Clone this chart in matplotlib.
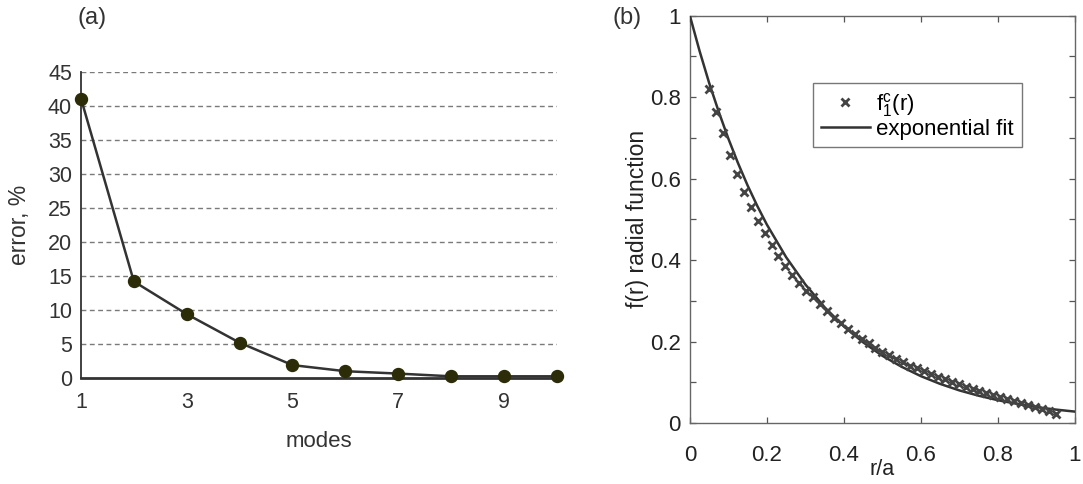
import matplotlib
matplotlib.use("Agg")
import matplotlib.pyplot as plt

plt.rcParams['font.family'] = ['Liberation Sans', 'DejaVu Sans']
plt.rcParams['mathtext.fontset'] = 'custom'
plt.rcParams['mathtext.rm'] = 'Liberation Sans'

# ---- panel (a) data ----
modes = [1, 2, 3, 4, 5, 6, 7, 8, 9, 10]
error_pct = [41.1, 14.2, 9.4, 5.2, 1.9, 1.0, 0.65, 0.25, 0.25, 0.25]
a_yticks = [0, 5, 10, 15, 20, 25, 30, 35, 40, 45]
a_xticks = [1, 3, 5, 7, 9]

# ---- panel (b) data ----
r_points = [0.050, 0.068, 0.086, 0.104, 0.122, 0.140, 0.158, 0.176, 0.194, 0.212,
            0.230, 0.248, 0.266, 0.284, 0.302, 0.320, 0.338, 0.356, 0.374, 0.392,
            0.410, 0.428, 0.446, 0.464, 0.482, 0.500, 0.518, 0.536, 0.554, 0.572,
            0.590, 0.608, 0.626, 0.644, 0.662, 0.680, 0.698, 0.716, 0.734, 0.752,
            0.770, 0.788, 0.806, 0.824, 0.842, 0.860, 0.878, 0.896, 0.914, 0.932,
            0.950]
f1c_points = [0.820, 0.764, 0.711, 0.658, 0.611, 0.568, 0.531, 0.496, 0.466, 0.437,
              0.411, 0.386, 0.363, 0.343, 0.325, 0.309, 0.291, 0.275, 0.259, 0.245,
              0.232, 0.219, 0.207, 0.196, 0.185, 0.175, 0.166, 0.157, 0.149, 0.141,
              0.134, 0.127, 0.120, 0.113, 0.107, 0.101, 0.095, 0.089, 0.084, 0.079,
              0.074, 0.069, 0.064, 0.059, 0.054, 0.049, 0.045, 0.040, 0.035, 0.029,
              0.023]
r_fit = [0.0, 0.025, 0.05, 0.075, 0.1, 0.125, 0.15, 0.175, 0.2, 0.25, 0.3, 0.35, 0.4,
         0.45, 0.5, 0.55, 0.6, 0.65, 0.7, 0.75, 0.8, 0.85, 0.9, 0.95, 1.0]
f_fit = [1.000, 0.914, 0.835, 0.764, 0.698, 0.638, 0.583, 0.533, 0.487, 0.407, 0.340,
         0.284, 0.237, 0.198, 0.165, 0.138, 0.115, 0.096, 0.080, 0.067, 0.056, 0.047,
         0.039, 0.033, 0.028]
b_major = [0, 0.2, 0.4, 0.6, 0.8, 1.0]
b_minor = [0.1, 0.3, 0.5, 0.7, 0.9]
b_labels = ['0', '0.2', '0.4', '0.6', '0.8', '1']

fig = plt.figure(figsize=(10.83, 4.84), dpi=100)

# ---------------- panel (a) ----------------
axa = fig.add_axes([0.0748, 0.219, 0.4392, 0.632])
axa.plot(modes, error_pct, color='#333333', lw=1.8, marker='o', ms=8.6,
         mfc='#2c2c08', mec='#2c2c08', clip_on=False, zorder=5)
axa.set_xlim(1, 10)
axa.set_ylim(0, 45)
axa.set_yticks(a_yticks)
axa.set_xticks(a_xticks)
for yv in a_yticks[1:]:
    axa.axhline(yv, color='#7a7a7a', lw=1.0, ls=(0, (3.5, 2.5)), zorder=1)
for s in ['top', 'right']:
    axa.spines[s].set_visible(False)
axa.spines['left'].set_color('#333333')
axa.spines['left'].set_linewidth(1.3)
axa.spines['bottom'].set_color('#333333')
axa.spines['bottom'].set_linewidth(2.0)
axa.tick_params(length=0, labelsize=15.5, colors='#333333', pad=6.5)
axa.tick_params(axis='x', pad=10)
axa.set_xlabel('modes', fontsize=16, color='#333333', labelpad=13)
axa.set_ylabel('error, %', fontsize=16.5, color='#333333', labelpad=12)
fig.text(0.072, 0.962, '(a)', fontsize=17, color='#333333', va='center', ha='left')

# ---------------- panel (b) ----------------
axb = fig.add_axes([0.637, 0.126, 0.3556, 0.8416])
axb.plot(r_fit, f_fit, color='#333333', lw=1.8, label='exponential fit', zorder=3)
axb.plot(r_points, f1c_points, ls='none', marker='x', ms=5.5, mew=2.0,
         color='#444444', label=r'f$_\mathregular{1}^\mathregular{c}$(r)', zorder=4)
axb.set_xlim(0, 1)
axb.set_ylim(0, 1)
axb.set_xticks(b_major)
axb.set_xticklabels(b_labels)
axb.set_yticks(b_major)
axb.set_yticklabels(b_labels)
axb.set_yticks(b_minor, minor=True)
axb.tick_params(which='both', direction='in', top=True, right=True, length=4,
                width=0.9, color='#555555', labelsize=16, labelcolor='#222222')
axb.tick_params(axis='x', pad=15.5)
axb.tick_params(axis='y', pad=6.5)
for s in axb.spines.values():
    s.set_color('#666666')
    s.set_linewidth(1.0)
axb.set_xlabel('r/a', fontsize=15.5, color='#222222', labelpad=-5)
axb.set_ylabel('f(r) radial function', fontsize=16.5, color='#222222', labelpad=1)
handles, labels = axb.get_legend_handles_labels()
leg = axb.legend(handles[::-1], labels[::-1], loc='upper left',
                 bbox_to_anchor=(0.32, 0.835), borderaxespad=0, fontsize=16,
                 fancybox=False, framealpha=1, edgecolor='#777777',
                 handlelength=2.2, handletextpad=0.3, labelspacing=0.0,
                 borderpad=0.35)
leg.get_frame().set_linewidth(1.0)
fig.text(0.566, 0.962, '(b)', fontsize=17, color='#333333', va='center', ha='left')

fig.savefig('out.png', dpi=100)
